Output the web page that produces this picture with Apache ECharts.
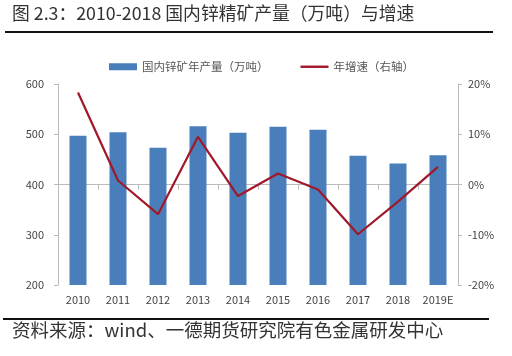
<!DOCTYPE html>
<html><head><meta charset="utf-8">
<script src="https://cdn.jsdelivr.net/npm/echarts@6/dist/echarts.min.js"></script>
<style>html,body{margin:0;padding:0;background:#fff}#c{width:512px;height:356px}</style>
</head><body><div id="c"></div>
<script>
const categories = ['2010','2011','2012','2013','2014','2015','2016','2017','2018','2019E'];
const output = [497, 504, 473, 516, 503, 515, 509, 457, 442, 458];
const growth = [18.3, 0.8, -5.9, 9.5, -2.3, 2.2, -1.0, -9.9, -3.4, 3.5];
const leftTicks = [200, 300, 400, 500, 600];
const rightTicks = [-20, -10, 0, 10, 20];
const barName = '国内锌矿年产量（万吨）';
const lineName = '年增速（右轴）';
const titleText = '图 2.3：2010-2018 国内锌精矿产量（万吨）与增速';
const sourceText = '资料来源：wind、一德期货研究院有色金属研发中心';

const chart = echarts.init(document.getElementById('c'));
const font = '"Noto Sans CJK SC", "Noto Sans", sans-serif';
chart.setOption({
  animation: false,
  backgroundColor: '#fff',
  textStyle: {fontFamily: font},
  graphic: [
    {type: 'text', left: 12, top: 4, style: {text: titleText, font: '17.8px ' + font, fill: '#333'}},
    {type: 'line', shape: {x1: 5, y1: 32, x2: 493, y2: 32}, style: {stroke: '#111', lineWidth: 2}},
    {type: 'line', shape: {x1: 3, y1: 319, x2: 489, y2: 319}, style: {stroke: '#111', lineWidth: 2}},
    {type: 'text', left: 12, top: 321, style: {text: sourceText, font: '18.5px ' + font, fill: '#333'}}
  ],
  legend: {
    top: 56, left: 104, itemGap: 32, itemWidth: 28, itemHeight: 7,
    textStyle: {fontSize: 11.5, color: '#555'},
    data: [{name: barName, icon: 'rect'}, {name: lineName, icon: 'path://M0,0 H28 V2.4 H0 Z'}]
  },
  grid: {left: 58, right: 54, top: 84, bottom: 71},
  xAxis: {
    type: 'category', data: categories,
    axisLine: {lineStyle: {color: '#bbb'}},
    axisTick: {show: true, alignWithLabel: false, lineStyle: {color: '#bbb'}},
    axisLabel: {color: '#444', fontSize: 11, margin: 9, interval: 0}
  },
  yAxis: [
    {type: 'value', min: 200, max: 600, interval: 100,
     axisLine: {show: true, lineStyle: {color: '#bbb'}},
     axisTick: {show: true, length: 4, lineStyle: {color: '#bbb'}},
     splitLine: {show: false},
     axisLabel: {color: '#444', fontSize: 11, margin: 14}},
    {type: 'value', min: -20, max: 20, interval: 10,
     axisLine: {show: true, lineStyle: {color: '#bbb'}},
     axisTick: {show: true, length: 4, lineStyle: {color: '#bbb'}},
     splitLine: {show: false},
     axisLabel: {color: '#444', fontSize: 11, margin: 10, formatter: v => v + '%'}}
  ],
  series: [
    {name: barName, type: 'bar', data: output, barWidth: 17, itemStyle: {color: '#4A7EBB'}},
    {name: lineName, type: 'line', yAxisIndex: 1, data: growth, symbol: 'none',
     lineStyle: {color: '#A0182A', width: 2.2}, itemStyle: {color: '#A0182A'}}
  ]
});
</script></body></html>
